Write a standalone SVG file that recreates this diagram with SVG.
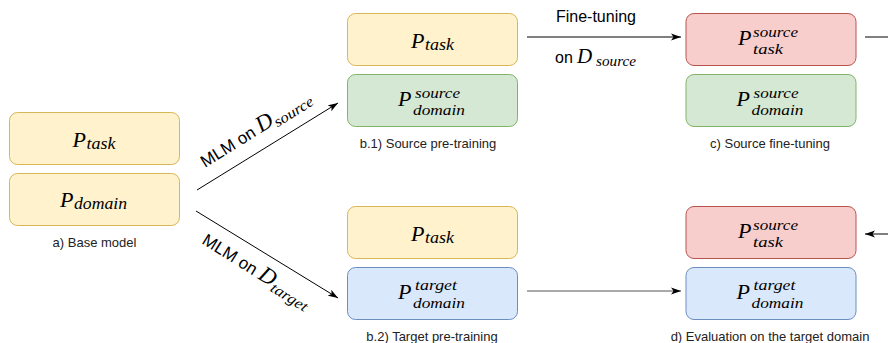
<svg xmlns="http://www.w3.org/2000/svg" width="888" height="343" viewBox="0 0 888 343">
<style>
.yel{fill:#fff2cc;stroke:#d6b656}
.grn{fill:#d5e8d4;stroke:#82b366}
.red{fill:#f8cecc;stroke:#b85450}
.blu{fill:#dae8fc;stroke:#6c8ebf}
.m{font-family:"Liberation Serif","Times New Roman",serif;font-style:italic;fill:#000}
.P{font-size:22px}
.s{font-size:16px}
.ss{font-size:15px}
.lbl{font-family:"Liberation Sans",Arial,sans-serif;font-size:13px;fill:#222;text-anchor:middle}
.t{font-family:"Liberation Sans",Arial,sans-serif;font-size:16px;fill:#000}
.c{fill:none;stroke:#000;stroke-width:1}
</style>
<defs>
<marker id="ah" markerUnits="userSpaceOnUse" markerWidth="10" markerHeight="8" refX="10" refY="4" orient="auto">
<path d="M0,0.5 L10,4 L0,7.5 L2.5,4 Z" fill="#000"/>
</marker>
<rect id="bx" width="170" height="52" rx="8"/>
</defs>
<rect width="888" height="343" fill="#fff"/>

<g id="connectors">
<line class="c" x1="197" y1="190" x2="338" y2="103" marker-end="url(#ah)"/>
<line class="c" x1="196" y1="211" x2="338" y2="298" marker-end="url(#ah)"/>
<line class="c" x1="527" y1="37" x2="681" y2="37" marker-end="url(#ah)"/>
<line class="c" x1="865" y1="37" x2="888" y2="37"/>
<line class="c" x1="888" y1="234" x2="865" y2="234" marker-end="url(#ah)"/>
<line class="c" x1="527" y1="291" x2="681" y2="291" style="stroke:#555" marker-end="url(#ah)"/>
<text class="t" x="596" y="22" text-anchor="middle">Fine-tuning</text>
<text class="t" x="555" y="63">on</text>
<text class="m" x="577" y="63" font-size="21">D</text>
<text class="m" x="596" y="66" font-size="14" textLength="40" lengthAdjust="spacingAndGlyphs">source</text>
<g transform="translate(205,168) rotate(-32)">
<text class="t" x="0" y="0" font-size="17" style="font-size:17px">MLM on</text>
<text class="m" x="66" y="0" font-size="23">D</text>
<text class="m" x="83" y="4" font-size="15" textLength="44" lengthAdjust="spacingAndGlyphs">source</text>
</g>
<g transform="translate(201,243) rotate(32)">
<text class="t" x="0" y="0" font-size="17" style="font-size:17px">MLM on</text>
<text class="m" x="66" y="0" font-size="23">D</text>
<text class="m" x="83" y="4" font-size="15" textLength="41" lengthAdjust="spacingAndGlyphs">target</text>
</g>
</g>

<g id="base">
<use href="#bx" x="9.5" y="112.5" class="yel"/>
<text class="m P" x="72.5" y="147">P</text>
<text class="m s" x="86.5" y="148.5" textLength="29" lengthAdjust="spacingAndGlyphs">task</text>
<use href="#bx" x="9.5" y="173.5" class="yel"/>
<text class="m P" x="60" y="207">P</text>
<text class="m s" x="74" y="209" textLength="53" lengthAdjust="spacingAndGlyphs">domain</text>
<text class="lbl" x="94.5" y="247">a) Base model</text>
</g>

<g id="b1">
<use href="#bx" x="347.5" y="13.5" class="yel"/>
<text class="m P" x="411" y="48">P</text>
<text class="m s" x="425" y="49.5" textLength="29" lengthAdjust="spacingAndGlyphs">task</text>
<use href="#bx" x="347.5" y="74.5" class="grn"/>
<text class="m P" x="398" y="106">P</text>
<text class="m ss" x="415" y="97.5" textLength="45" lengthAdjust="spacingAndGlyphs">source</text>
<text class="m ss" x="413" y="114.5" textLength="52" lengthAdjust="spacingAndGlyphs">domain</text>
<text class="lbl" x="428" y="148">b.1) Source pre-training</text>
</g>

<g id="c">
<use href="#bx" x="686" y="13.5" class="red"/>
<text class="m P" x="738" y="44.5">P</text>
<text class="m ss" x="753" y="36.5" textLength="45" lengthAdjust="spacingAndGlyphs">source</text>
<text class="m ss" x="753" y="53.5" textLength="30" lengthAdjust="spacingAndGlyphs">task</text>
<use href="#bx" x="686" y="74.5" class="grn"/>
<text class="m P" x="736.5" y="106">P</text>
<text class="m ss" x="753.5" y="97.5" textLength="45" lengthAdjust="spacingAndGlyphs">source</text>
<text class="m ss" x="751.5" y="114.5" textLength="52" lengthAdjust="spacingAndGlyphs">domain</text>
<text class="lbl" x="770" y="148">c) Source fine-tuning</text>
</g>

<g id="b2">
<use href="#bx" x="347.5" y="206.5" class="yel"/>
<text class="m P" x="411" y="241">P</text>
<text class="m s" x="425" y="242.5" textLength="29" lengthAdjust="spacingAndGlyphs">task</text>
<use href="#bx" x="347.5" y="267.5" class="blu"/>
<text class="m P" x="398" y="299">P</text>
<text class="m ss" x="415" y="290" textLength="42" lengthAdjust="spacingAndGlyphs">target</text>
<text class="m ss" x="413" y="307.5" textLength="52" lengthAdjust="spacingAndGlyphs">domain</text>
<text class="lbl" x="432" y="341">b.2) Target pre-training</text>
</g>

<g id="d">
<use href="#bx" x="686" y="206.5" class="red"/>
<text class="m P" x="738" y="237.5">P</text>
<text class="m ss" x="753" y="229.5" textLength="45" lengthAdjust="spacingAndGlyphs">source</text>
<text class="m ss" x="753" y="246.5" textLength="30" lengthAdjust="spacingAndGlyphs">task</text>
<use href="#bx" x="686" y="267.5" class="blu"/>
<text class="m P" x="736.5" y="299">P</text>
<text class="m ss" x="753.5" y="290" textLength="42" lengthAdjust="spacingAndGlyphs">target</text>
<text class="m ss" x="751.5" y="307.5" textLength="52" lengthAdjust="spacingAndGlyphs">domain</text>
<text class="lbl" x="770" y="341">d) Evaluation on the target domain</text>
</g>
</svg>
